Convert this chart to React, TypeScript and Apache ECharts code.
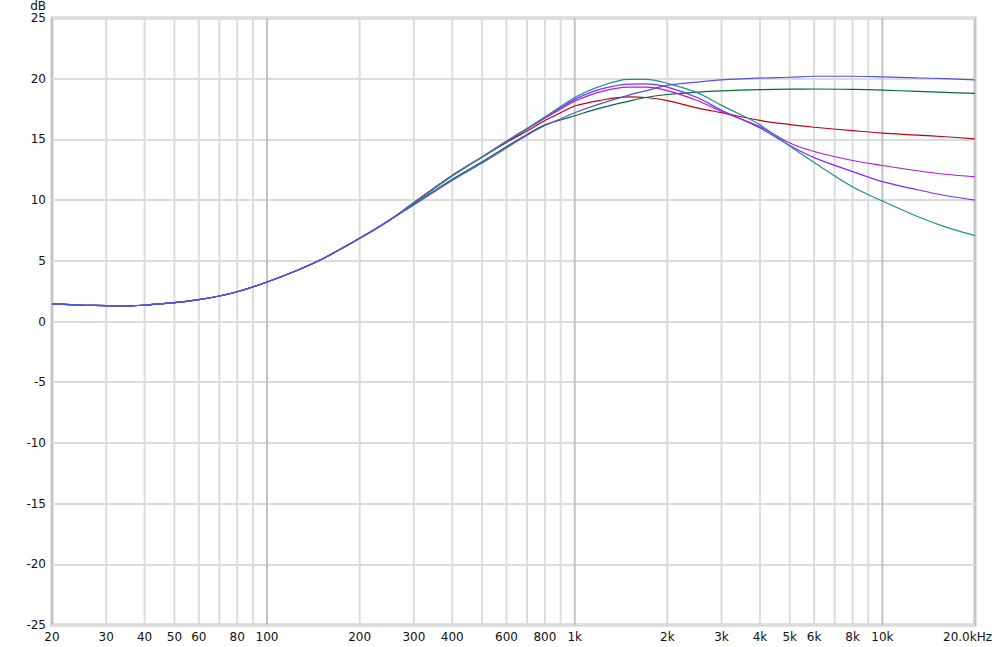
import React, { useEffect, useRef } from 'react';
import * as echarts from 'echarts';

// Frequencies (Hz) at which the curves are sampled
const freqs = [20, 25, 30, 35, 40, 50, 60, 70, 80, 100, 125, 150, 200, 250, 300, 400, 500, 600, 700, 800, 900, 1000, 1200, 1500, 1700, 2000, 2500, 3000, 4000, 5000, 6000, 8000, 10000, 13000, 16000, 20000];

// Shared low-frequency part (20 Hz .. 250 Hz), dB
const lowShared = [1.45, 1.35, 1.3, 1.28, 1.35, 1.55, 1.8, 2.1, 2.45, 3.25, 4.2, 5.1, 6.85, 8.35];

// Upper part (300 Hz .. 20 kHz), dB
const tealUpper = [9.75, 12.0, 13.55, 14.85, 15.9, 16.85, 17.7, 18.45, 19.35, 19.95, 19.95, 19.62, 18.85, 17.8, 16.2, 14.45, 13.1, 11.1, 9.92, 8.65, 7.8, 7.08];
const violetUpper = [9.75, 12.0, 13.55, 14.85, 15.9, 16.8, 17.6, 18.3, 19.1, 19.55, 19.57, 19.3, 18.45, 17.4, 15.95, 14.5, 13.5, 12.35, 11.52, 10.85, 10.38, 10.0];
const magentaUpper = [9.75, 12.0, 13.55, 14.8, 15.85, 16.75, 17.5, 18.15, 18.9, 19.3, 19.3, 19.02, 18.2, 17.3, 16.05, 14.7, 14.0, 13.26, 12.85, 12.42, 12.13, 11.92];
const redUpper = [9.8, 12.05, 13.55, 14.75, 15.7, 16.55, 17.2, 17.75, 18.2, 18.5, 18.45, 18.2, 17.6, 17.2, 16.56, 16.22, 16.0, 15.72, 15.52, 15.36, 15.22, 15.05];
const greenUpper = [9.65, 11.72, 13.15, 14.4, 15.4, 16.2, 16.6, 16.95, 17.55, 18.15, 18.45, 18.7, 18.9, 19.0, 19.1, 19.14, 19.15, 19.12, 19.06, 18.95, 18.87, 18.79];
const blueUpper = [9.6, 11.62, 13.05, 14.3, 15.35, 16.15, 16.7, 17.2, 17.9, 18.65, 19.0, 19.45, 19.72, 19.9, 20.05, 20.12, 20.2, 20.2, 20.15, 20.07, 20.0, 19.9];

const seriesNames = ['Green', 'Red', 'Magenta', 'Violet', 'Teal', 'Blue'];
const seriesColors = ['#006b3c', '#c00012', '#b01fd6', '#7b2dff', '#1c9090', '#5252e6'];
const seriesUpper = [greenUpper, redUpper, magentaUpper, violetUpper, tealUpper, blueUpper];

// Axis ranges and ticks
const xMin = 20;
const xMax = 20000;
const yMin = -25;
const yMax = 25;
const yStep = 5;
const gridFreqs = [30, 40, 50, 60, 70, 80, 90, 100, 200, 300, 400, 500, 600, 700, 800, 900, 1000, 2000, 3000, 4000, 5000, 6000, 7000, 8000, 9000, 10000];
const decadeFreqs = [100, 1000, 10000];
const tickFreqs = [20, 30, 40, 50, 60, 80, 100, 200, 300, 400, 600, 800, 1000, 2000, 3000, 4000, 5000, 6000, 8000, 10000, 20000];
const tickLabels = ['20', '30', '40', '50', '60', '80', '100', '200', '300', '400', '600', '800', '1k', '2k', '3k', '4k', '5k', '6k', '8k', '10k', '20.0kHz'];

const FONT = '"DejaVu Sans", Verdana, sans-serif';

export default function App() {
  const ref = useRef<HTMLDivElement>(null);

  useEffect(() => {
    if (!ref.current) return;
    const chart = echarts.init(ref.current, undefined, { renderer: 'svg' });

    const lineSeries = seriesNames.map((name, i) => {
      const values = lowShared.concat(seriesUpper[i]);
      return {
        name,
        type: 'line',
        data: freqs.map((f, k) => [f, values[k]]),
        showSymbol: false,
        smooth: 0.35,
        lineStyle: { color: seriesColors[i], width: 1.2 },
        itemStyle: { color: seriesColors[i] },
        z: 5,
        silent: true,
      };
    });

    const option: any = {
      animation: false,
      backgroundColor: '#ffffff',
      grid: {
        left: 52,
        right: 25,
        top: 14,
        bottom: 22,
        show: true,
        borderColor: '#c6c6c6',
        borderWidth: 3,
        backgroundColor: 'transparent',
      },
      xAxis: {
        type: 'log',
        logBase: 10,
        min: xMin,
        max: xMax,
        axisLine: { show: false },
        axisTick: { show: false },
        axisLabel: { show: false },
        splitLine: { show: false },
        minorSplitLine: { show: false },
      },
      yAxis: {
        type: 'value',
        min: yMin,
        max: yMax,
        interval: yStep,
        name: 'dB',
        nameLocation: 'end',
        nameGap: 6,
        nameTextStyle: {
          color: '#111',
          fontSize: 12,
          lineHeight: 12,
          fontFamily: FONT,
          align: 'right',
          verticalAlign: 'bottom',
          padding: [0, 6, 0, 0],
        },
        axisLine: { show: false },
        axisTick: { show: false },
        axisLabel: { color: '#111', fontSize: 12, lineHeight: 12, fontFamily: FONT, margin: 6 },
        splitLine: { show: true, lineStyle: { color: '#dcdcdc', width: 2 } },
      },
      series: [
        {
          type: 'custom',
          name: 'grid',
          silent: true,
          clip: false,
          z: 1,
          data: gridFreqs.map((f) => [f, 0]),
          encode: { x: 0, y: 1 },
          renderItem: (params: any, api: any) => {
            const f = api.value(0);
            const p1 = api.coord([f, yMax]);
            const p2 = api.coord([f, yMin]);
            const major = decadeFreqs.indexOf(f) >= 0;
            return {
              type: 'line',
              shape: { x1: p1[0], y1: p1[1], x2: p2[0], y2: p2[1] },
              style: { stroke: major ? '#c2c2c2' : '#dcdcdc', lineWidth: 2 },
            };
          },
        },
        {
          type: 'custom',
          name: 'xlabels',
          silent: true,
          clip: false,
          z: 1,
          data: tickFreqs.map((f) => [f, yMin]),
          encode: { x: 0, y: 1 },
          renderItem: (params: any, api: any) => {
            const f = api.value(0);
            const p = api.coord([f, yMin]);
            const last = params.dataIndex === tickFreqs.length - 1;
            return {
              type: 'text',
              x: last ? p[0] + 17 : p[0],
              y: p[1] + 6,
              style: {
                text: tickLabels[params.dataIndex],
                fill: '#111',
                fontSize: 12,
                fontFamily: FONT,
                align: last ? 'right' : 'center',
                verticalAlign: 'top',
              },
            };
          },
        },
        ...lineSeries,
      ],
    };

    chart.setOption(option);
    return () => {
      chart.dispose();
    };
  }, []);

  return (
    <div
      ref={ref}
      style={{ position: 'fixed', left: 0, top: 0, width: 1000, height: 647, background: '#fff' }}
    />
  );
}
